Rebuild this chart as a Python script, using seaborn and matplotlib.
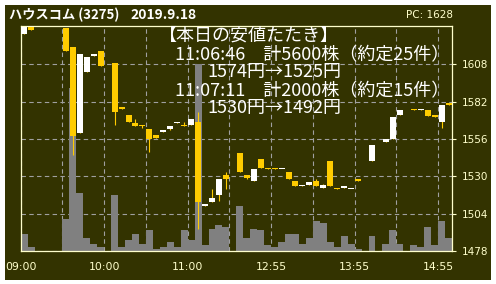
import numpy as np
import pandas as pd
import matplotlib
matplotlib.use("Agg")
import matplotlib.pyplot as plt
from matplotlib.patches import Rectangle
import seaborn as sns

nan = np.nan
# 5-minute slots (09:00 .. 15:00, lunch compressed)
opens  = [1629, 1634, nan, nan, nan, nan, 1633, 1620, 1560, 1603, 1614, 1617, nan, 1609, 1578, 1573,
          1567, 1566, 1563, 1559, 1561, 1563, 1567, 1566, 1566, 1568, 1509, 1512, 1517, 1531, nan, 1546,
          1531, 1527, 1542, 1536, 1536, 1535, 1533, 1527, 1523, 1524, 1527, 1522, 1541, 1522, 1522, 1521,
          1528, nan, 1541, nan, 1554, 1556, 1573, nan, 1577, 1576, 1576, 1573, 1568, 1581]
highs  = [1634, 1634, nan, nan, nan, nan, 1633, 1620, 1615, 1613, 1615, 1617, nan, 1609, 1578, 1573,
          1570, 1566, 1563, 1559, 1562, 1565, 1568, 1568, 1570, 1575, 1511, 1521, 1528, 1533, nan, 1546,
          1531, 1535, 1542, 1536, 1536, 1535, 1533, 1527, 1524, 1526, 1528, 1525, 1541, 1522, 1523, 1521,
          1528, nan, 1552, nan, 1556, 1571, 1576, nan, 1577, 1577, 1576, 1573, 1580, 1581]
lows   = [1629, 1632, nan, nan, nan, nan, 1617, 1545, 1560, 1603, 1614, 1607, nan, 1566, 1577, 1568,
          1565, 1564, 1547, 1557, 1561, 1562, 1567, 1565, 1566, 1493, 1509, 1512, 1513, 1521, nan, 1533,
          1528, 1527, 1536, 1535, 1535, 1535, 1528, 1523, 1523, 1524, 1523, 1522, 1523, 1521, 1522, 1521,
          1527, nan, 1541, nan, 1554, 1556, 1573, nan, 1576, 1576, 1572, 1571, 1564, 1580]
closes = [1634, 1632, nan, nan, nan, nan, 1617, 1558, 1615, 1613, 1615, 1607, nan, 1575, 1577, 1568,
          1565, 1565, 1556, 1557, 1562, 1565, 1568, 1565, 1570, 1512, 1511, 1515, 1528, 1528, nan, 1533,
          1529, 1535, 1536, 1535, 1535, 1535, 1528, 1523, 1524, 1526, 1523, 1524, 1523, 1521, 1523, 1521,
          1527, nan, 1552, nan, 1556, 1571, 1576, nan, 1576, 1577, 1572, 1571, 1580, 1580]
volumes = [850, 200, 0, 0, 0, 0, 1600, 8150, 2900, 650, 350, 200, 0, 2800, 200, 550,
           850, 350, 1050, 100, 200, 450, 200, 1050, 550, 9350, 300, 1100, 1300, 1200, 0, 2250,
           650, 1100, 1050, 300, 200, 450, 850, 850, 350, 650, 1500, 1400, 450, 200, 750, 350,
           100, 0, 750, 0, 350, 1050, 350, 0, 300, 200, 1200, 300, 1500, 650]
price_ticks = [1478, 1504, 1530, 1556, 1582, 1608]
time_labels = ["09:00", "10:00", "11:00", "12:55", "13:55", "14:55"]
title_name = "ハウスコム (3275)"
title_date = "2019.9.18"
prev_close = "PC: 1628"
note_lines = ["【本日の安値たたき】",
              "11:06:46\u3000計5600株（約定25件）",
              "1574円→1525円",
              "11:07:11\u3000計2000株（約定15件）",
              "1530円→1492円"]

BG = "#333300"
UP = "#FFFFFF"
DOWN = "#FFCC00"
CREAM = "#FFFFCC"
GRID = "#A0A0A0"
VOL = "#808080"

sns.set_style("dark")
plt.rcParams["font.family"] = ["DejaVu Sans"]

W, H = 496, 284
fig = plt.figure(figsize=(W / 100, H / 100), dpi=100, facecolor="white")
fig.patches.append(Rectangle((5 / W, 4 / H), 486 / W, 275 / H, transform=fig.transFigure,
                             facecolor=BG, edgecolor="none", zorder=-10))

l, r, t, b = 20.7, 452.0, 26.3, 251.0
pos = [l / W, 1 - b / H, (r - l) / W, (b - t) / H]

n = len(opens)
idx = np.arange(n)
xlim = (-0.5, n - 0.5)
ylim = (1478, 1634.5)

# grid axes (bottom)
axg = fig.add_axes(pos, zorder=1)
axg.set_facecolor(BG)
axg.set_xlim(*xlim)
axg.set_ylim(*ylim)
xt = np.arange(-0.5, n - 1, 6)
axg.set_xticks(xt)
axg.set_yticks(price_ticks)
axg.grid(True, color=GRID, linestyle=(0, (4, 3)), linewidth=0.8)
axg.tick_params(length=0, labelbottom=False, labelleft=False)
for s in axg.spines.values():
    s.set_visible(False)

# volume axes (middle)
axv = fig.add_axes(pos, zorder=2)
axv.patch.set_visible(False)
vdf = pd.DataFrame({"slot": idx, "vol": volumes})
sns.barplot(data=vdf, x="slot", y="vol", ax=axv, color=VOL, saturation=1, width=1.0,
            linewidth=0, errorbar=None)
axv.set_xlim(*xlim)
axv.set_ylim(0, 11250)
axv.axis("off")

# price axes (top)
axp = fig.add_axes(pos, zorder=3)
axp.patch.set_visible(False)
o = np.array(opens); c = np.array(closes); hi = np.array(highs); lo = np.array(lows)
valid = ~np.isnan(o)
axp.vlines(idx[valid], lo[valid], hi[valid], color=DOWN, linewidth=0.8, zorder=2)
body_bottom = np.minimum(o, c)
body_h = np.maximum(np.abs(c - o), 0.7)
cols = [UP if cc >= oo else DOWN for oo, cc in zip(o, c)]
axp.bar(idx[valid], body_h[valid], bottom=body_bottom[valid], width=0.86,
        color=[cols[i] for i in idx[valid]], linewidth=0, zorder=3)
axp.set_xlim(*xlim)
axp.set_ylim(*ylim)
axp.set_xticks(xt)
xl = []
for k in range(len(xt)):
    xl.append(time_labels[k // 2] if k % 2 == 0 else "")
axp.set_xticklabels(xl)
axp.set_yticks(price_ticks)
axp.yaxis.tick_right()
axp.tick_params(axis="x", direction="out", length=4, width=0.8, color=CREAM,
                labelcolor=CREAM, labelsize=7.8, pad=4)
axp.tick_params(axis="y", direction="out", length=3, width=0.8, color=CREAM,
                labelcolor=CREAM, labelsize=7.5, pad=4, left=False, right=True,
                labelleft=False, labelright=True)
for s in axp.spines.values():
    s.set_color(CREAM)
    s.set_linewidth(0.9)
axp.grid(False)

def ftext(x, y, s, **kw):
    fig.text(x / W, 1 - y / H, s, va="center", ha="left", zorder=5, **kw)

cjk = ["Noto Sans CJK JP", "DejaVu Sans"]
ftext(9, 15, title_name, family=cjk, fontsize=9.5, fontweight="bold", color="white")
ftext(130, 15, title_date, family=cjk, fontsize=10, fontweight="bold", color="white")
ftext(406, 15, prev_close, fontsize=7.5, color=CREAM)

note_x = [159, 175, 207, 175, 207]
note_y = [36, 55, 72, 91, 108]
for s, x, y in zip(note_lines, note_x, note_y):
    ftext(x, y, s, family=cjk, fontsize=13, color="white")

fig.savefig("out.png", dpi=100, facecolor="white")
